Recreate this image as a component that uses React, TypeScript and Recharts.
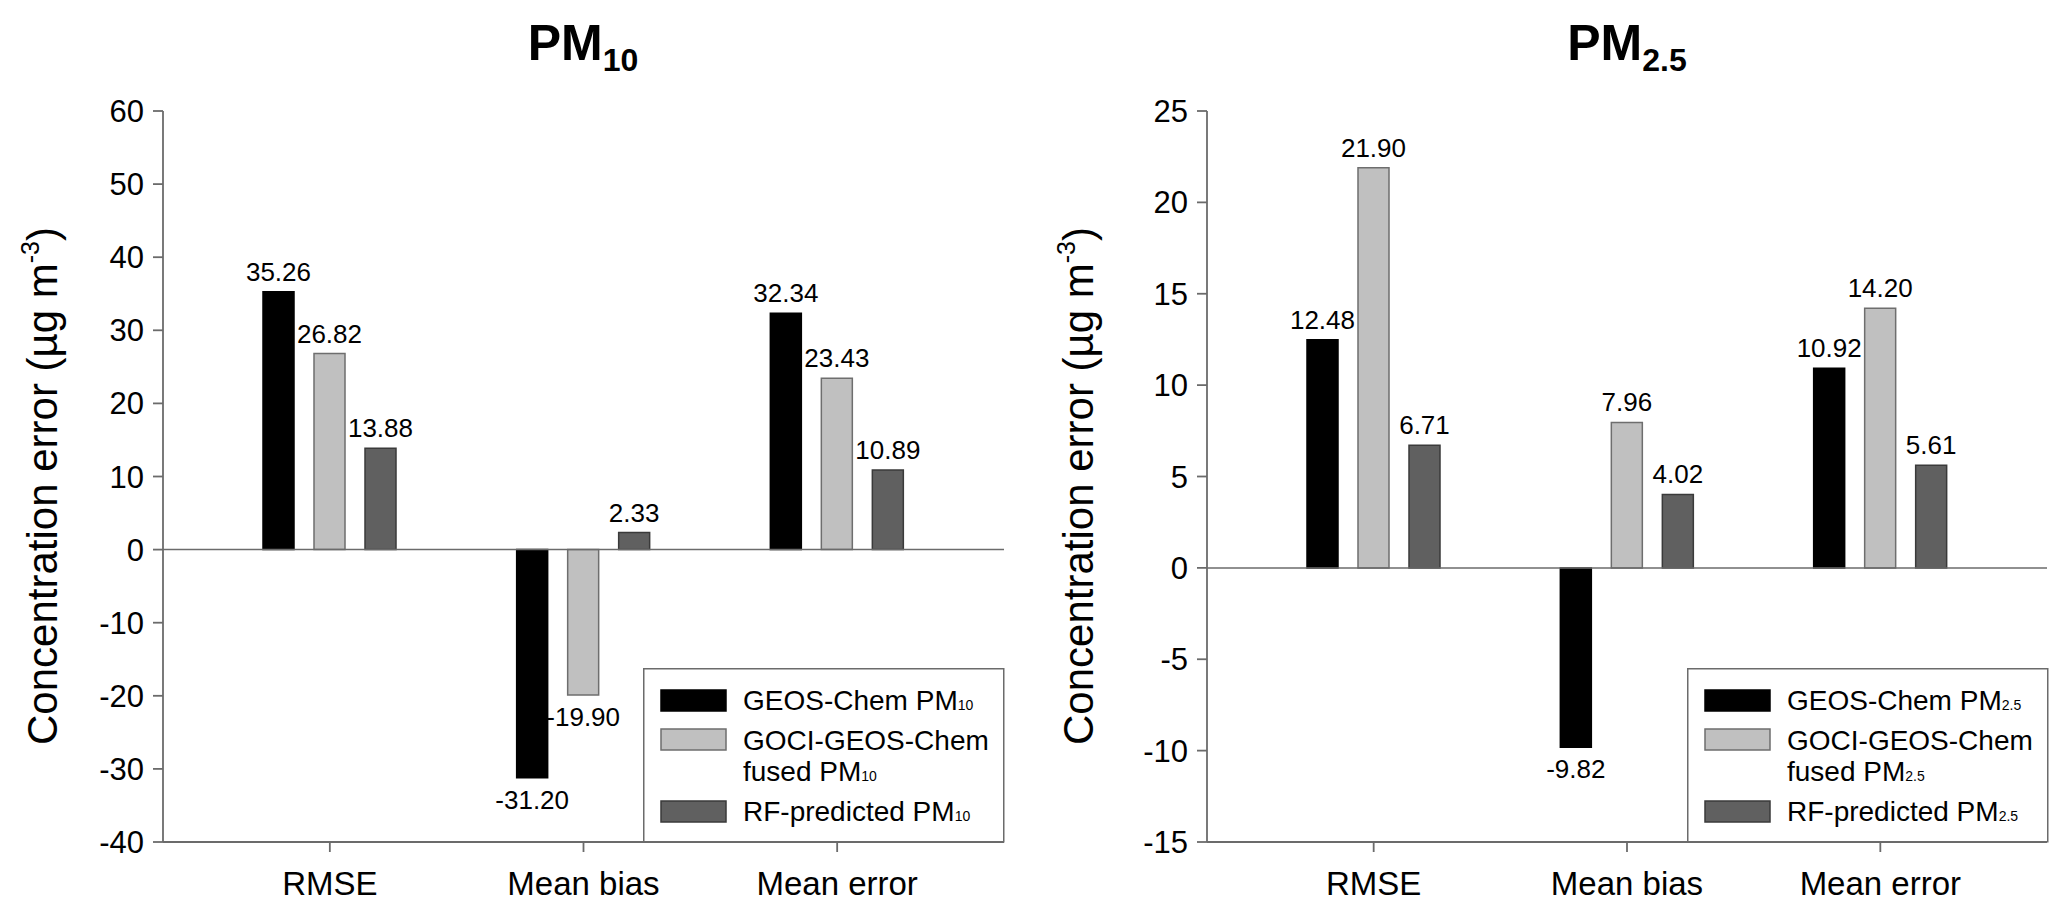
import { Bar, BarChart, LabelList, Legend, ReferenceLine, XAxis, YAxis } from "recharts";

const categories = ["RMSE", "Mean bias", "Mean error"];

const pm10Geos = [35.26, -31.2, 32.34];
const pm10Fused = [26.82, -19.9, 23.43];
const pm10Rf = [13.88, 2.33, 10.89];
const pm10Ticks = [-40, -30, -20, -10, 0, 10, 20, 30, 40, 50, 60];

const pm25Geos = [12.48, -9.82, 10.92];
const pm25Fused = [21.9, 7.96, 14.2];
const pm25Rf = [6.71, 4.02, 5.61];
const pm25Ticks = [-15, -10, -5, 0, 5, 10, 15, 20, 25];

const FONT = "'Liberation Sans', Arial, sans-serif";
const AXIS = "#6b6b6b";

const series = [
  { key: "geos", fill: "#000000", stroke: "#000000" },
  { key: "fused", fill: "#c0c0c0", stroke: "#6e6e6e" },
  { key: "rf", fill: "#606060", stroke: "#3a3a3a" },
];

function buildRows(geos: number[], fused: number[], rf: number[]) {
  return categories.map((name, i) => ({ name, geos: geos[i], fused: fused[i], rf: rf[i] }));
}

function ValueLabel(props: any) {
  const { x, y, width, height, value } = props;
  const cx = Number(x) + Number(width) / 2;
  const y1 = Number(y);
  const y2 = Number(y) + Number(height);
  const v = Number(value);
  const ty = v >= 0 ? Math.min(y1, y2) - 11 : Math.max(y1, y2) + 31;
  return (
    <text x={cx} y={ty} textAnchor="middle" fontSize={26} fontFamily={FONT} fill="#000">
      {v.toFixed(2)}
    </text>
  );
}

function LegendBox({ sub }: { sub: string }) {
  const txt = { fontSize: 28, fontFamily: FONT, fill: "#000" };
  const subSize = 14;
  const rowsY = [22, 61, 133];
  return (
    <svg width={362} height={175} style={{ display: "block" }}>
      <rect x={0.75} y={0.75} width={360} height={173} fill="#fff" stroke={AXIS} strokeWidth={1.5} />
      {series.map((s, i) => (
        <rect key={s.key} x={18} y={rowsY[i]} width={65} height={21} fill={s.fill} stroke={s.stroke} strokeWidth={1.5} />
      ))}
      <text x={100} y={42} {...txt}>
        GEOS-Chem PM<tspan fontSize={subSize}>{sub}</tspan>
      </text>
      <text x={100} y={82} {...txt}>GOCI-GEOS-Chem</text>
      <text x={100} y={113} {...txt}>
        fused PM<tspan fontSize={subSize}>{sub}</tspan>
      </text>
      <text x={100} y={153} {...txt}>
        RF-predicted PM<tspan fontSize={subSize}>{sub}</tspan>
      </text>
    </svg>
  );
}

interface PanelProps {
  rows: ReturnType<typeof buildRows>;
  ticks: number[];
  width: number;
  axisWidth: number;
  rightMargin: number;
  legendLeft: number;
  sub: string;
}

function Panel({ rows, ticks, width, axisWidth, rightMargin, legendLeft, sub }: PanelProps) {
  const domain: [number, number] = [ticks[0], ticks[ticks.length - 1]];
  const line = { stroke: AXIS, strokeWidth: 1.8 };
  return (
    <BarChart
      width={width}
      height={915}
      data={rows}
      margin={{ top: 111, right: rightMargin, bottom: 0, left: 0 }}
      barSize={31}
      barGap={20}
      style={{ fontFamily: FONT }}
    >
      <XAxis
        dataKey="name"
        type="category"
        padding={{ left: 40, right: 40 }}
        height={73}
        tickSize={10}
        tickMargin={20}
        axisLine={line}
        tickLine={line}
        tick={{ fontSize: 33, fill: "#000", fontFamily: FONT }}
      />
      <XAxis xAxisId="top" dataKey="name" orientation="top" height={0} tick={false} tickLine={false} axisLine={line} />
      <YAxis
        type="number"
        domain={domain}
        ticks={ticks}
        interval={0}
        width={axisWidth}
        tickSize={10}
        tickMargin={9}
        axisLine={line}
        tickLine={line}
        tick={{ fontSize: 31, fill: "#000", fontFamily: FONT }}
      />
      <YAxis
        yAxisId="r"
        type="number"
        orientation="right"
        domain={domain}
        width={0}
        tick={false}
        tickLine={false}
        axisLine={line}
      />
      <ReferenceLine y={0} stroke={AXIS} strokeWidth={1.5} />
      {series.map((s) => (
        <Bar key={s.key} dataKey={s.key} fill={s.fill} stroke={s.stroke} strokeWidth={1.5} isAnimationActive={false}>
          <LabelList dataKey={s.key} content={ValueLabel} />
        </Bar>
      ))}
      <Legend
        layout="vertical"
        align="center"
        verticalAlign="middle"
        wrapperStyle={{ left: legendLeft, top: 668, width: 362, height: 175 }}
        content={() => <LegendBox sub={sub} />}
      />
    </BarChart>
  );
}

function Overlay() {
  const title = { fontSize: 50, fontWeight: "bold" as const, fontFamily: FONT, fill: "#000", textAnchor: "middle" as const };
  const ylab = { fontSize: 42, fontFamily: FONT, fill: "#000", textAnchor: "middle" as const };
  const yLabel = (
    <>
      Concentration error (µg m<tspan fontSize={25} dy={-18}>-3</tspan>
      <tspan dy={18}>)</tspan>
    </>
  );
  return (
    <svg width={2067} height={915} style={{ position: "absolute", left: 0, top: 0, pointerEvents: "none" }}>
      <text x={583} y={60} {...title}>
        PM<tspan fontSize={32} dy={11}>10</tspan>
      </text>
      <text x={1627} y={60} {...title}>
        PM<tspan fontSize={32} dy={11}>2.5</tspan>
      </text>
      <text transform="translate(57,486) rotate(-90)" {...ylab}>{yLabel}</text>
      <text transform="translate(1093,486) rotate(-90)" {...ylab}>{yLabel}</text>
    </svg>
  );
}

export default function App() {
  const pm10Rows = buildRows(pm10Geos, pm10Fused, pm10Rf);
  const pm25Rows = buildRows(pm25Geos, pm25Fused, pm25Rf);
  return (
    <div style={{ position: "absolute", left: 0, top: 0, width: 2067, height: 915, background: "#fff", fontFamily: FONT }}>
      <div style={{ position: "absolute", left: 0, top: 0 }}>
        <Panel rows={pm10Rows} ticks={pm10Ticks} width={1034} axisWidth={163} rightMargin={30} legendLeft={643} sub="10" />
      </div>
      <div style={{ position: "absolute", left: 1034, top: 0 }}>
        <Panel rows={pm25Rows} ticks={pm25Ticks} width={1033} axisWidth={173} rightMargin={20} legendLeft={653} sub="2.5" />
      </div>
      <Overlay />
    </div>
  );
}
